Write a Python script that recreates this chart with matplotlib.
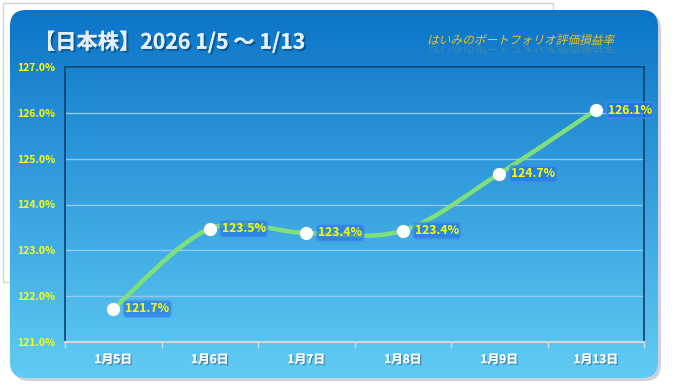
import numpy as np
import matplotlib.pyplot as plt
from matplotlib.patches import FancyBboxPatch, Rectangle, PathPatch
from matplotlib.path import Path
from matplotlib.textpath import TextPath
from matplotlib.font_manager import FontProperties
from matplotlib.transforms import Affine2D
import matplotlib.patheffects as pe

plt.rcParams['font.family'] = ['Noto Sans CJK JP', 'DejaVu Sans']

# data
days = ['1月5日', '1月6日', '1月7日', '1月8日', '1月9日', '1月13日']
values = [121.7, 123.5, 123.4, 123.4, 124.7, 126.1]
plot_y = [121.72, 123.47, 123.38, 123.43, 124.67, 126.06]   # read positions
title = '【日本株】2026 1/5 〜 1/13'
subtitle = 'はいみのポートフォリオ評価損益率'

W, H = 698, 392
fig = plt.figure(figsize=(W / 100, H / 100), dpi=100)
fig.patch.set_facecolor('white')

# background canvas in pixel coords
bg = fig.add_axes([0, 0, 1, 1])
bg.set_xlim(0, W)
bg.set_ylim(H, 0)
bg.axis('off')

bg.add_patch(Rectangle((3, 3), 550, 279, fc='white', ec='#d4d4d4', lw=1, zorder=0.2))
bg.add_patch(FancyBboxPatch((13, 13), 648, 368, boxstyle='round,pad=0,rounding_size=16',
                            fc='#cdd2da', ec='none', zorder=0.5))
panel = FancyBboxPatch((10, 10), 648, 368, boxstyle='round,pad=0,rounding_size=16',
                       fc='none', ec='none')
bg.add_patch(panel)
grad = np.linspace(0, 1, 256).reshape(-1, 1)
top = np.array([0x0b, 0x74, 0xc8]) / 255
bot = np.array([0x60, 0xcc, 0xf4]) / 255
img = top + (bot - top) * grad[..., None]
im = bg.imshow(img, extent=[10, 658, 378, 10], aspect='auto', interpolation='bilinear', zorder=1)
im.set_clip_path(panel)

# title
bg.text(34, 42, title, color='#e6eef8', fontsize=15.3, fontweight='bold', va='center', ha='left', zorder=3,
        path_effects=[pe.withSimplePatchShadow(offset=(1.5, -1.5), shadow_rgbFace='#06406e', alpha=0.6),
                      pe.Normal()])

# italic subtitle with reflection
fp = FontProperties(family='Noto Sans CJK JP', size=11.7)
tp = TextPath((0, 0), subtitle, prop=fp)
main_tr = Affine2D().skew_deg(14, 0) + Affine2D().scale(1, -1).translate(427, 44) + bg.transData
bg.add_patch(PathPatch(tp, fc='#f2c21c', ec='none', transform=main_tr, zorder=3))
refl_tr = Affine2D().skew_deg(14, 0) + Affine2D().scale(1, 0.8).translate(427, 46) + bg.transData
bg.add_patch(PathPatch(tp, fc='#e0b830', ec='none', alpha=0.22, transform=refl_tr, zorder=3))

# chart area
L, R, T, B = 65, 644, 67, 342
ax = fig.add_axes([L / W, 1 - B / H, (R - L) / W, (B - T) / H])
ax.set_facecolor('none')
ax.set_xlim(-0.5, 5.5)
ax.set_ylim(121, 127)

yt = np.arange(121, 128)
ax.set_yticks(yt)
ax.set_yticklabels([f'{v:.1f}%' for v in yt], color='#ffff00', fontsize=7.5, fontweight='bold')
ax.set_xticks(range(len(days)))
ax.set_xticklabels(days, color='white', fontsize=8.5, fontweight='bold')
for lab in ax.get_xticklabels():
    lab.set_path_effects([pe.withSimplePatchShadow(offset=(1, -1), shadow_rgbFace='#3a6a90', alpha=0.7),
                          pe.Normal()])
ax.tick_params(axis='y', length=0, pad=7)
ax.tick_params(axis='x', length=0, pad=8)
ax.set_xticks(np.arange(-0.5, 6.0, 1), minor=True)
ax.tick_params(axis='x', which='minor', length=4, color='#d8dde4', direction='out', width=1)

for v in yt[1:-1]:
    ax.axhline(v, color='#8fcaf2', lw=1)
ax.axhline(127, color='#9fd2f6', lw=1.2)
for s in ['left', 'right', 'top']:
    ax.spines[s].set_color('#0f3f6c')
    ax.spines[s].set_linewidth(1.2)
ax.spines['bottom'].set_color('#d0d6de')
ax.spines['bottom'].set_linewidth(1.6)

# smoothed line (Catmull-Rom bezier)
x = np.arange(len(plot_y), dtype=float)
y = np.array(plot_y)
px = np.concatenate([[x[0]], x, [x[-1]]])
py = np.concatenate([[y[0]], y, [y[-1]]])
verts = [(x[0], y[0])]
codes = [Path.MOVETO]
for i in range(1, len(px) - 2):
    c1 = (px[i] + (px[i + 1] - px[i - 1]) / 6, py[i] + (py[i + 1] - py[i - 1]) / 6)
    c2 = (px[i + 1] - (px[i + 2] - px[i]) / 6, py[i + 1] - (py[i + 2] - py[i]) / 6)
    verts += [c1, c2, (px[i + 1], py[i + 1])]
    codes += [Path.CURVE4] * 3
ax.add_patch(PathPatch(Path(verts, codes), fc='none', ec='#7fe07a', lw=3.2, capstyle='round', zorder=3))
ax.plot(x, y, 'o', ms=8.5, mfc='white', mec='white', zorder=4)

for xi, yi, v in zip(x, y, values):
    ax.annotate(f'{v:.1f}%', (xi, yi), xytext=(12, 0), textcoords='offset pixels',
                va='center', ha='left', color='#ffff00', fontsize=8.7, fontweight='bold', zorder=5,
                bbox=dict(boxstyle='round,pad=0.12,rounding_size=0.3', fc='#1f6fe2', ec='#3f8ff0', lw=1.5, alpha=0.6))

fig.savefig('out.png', dpi=100)
